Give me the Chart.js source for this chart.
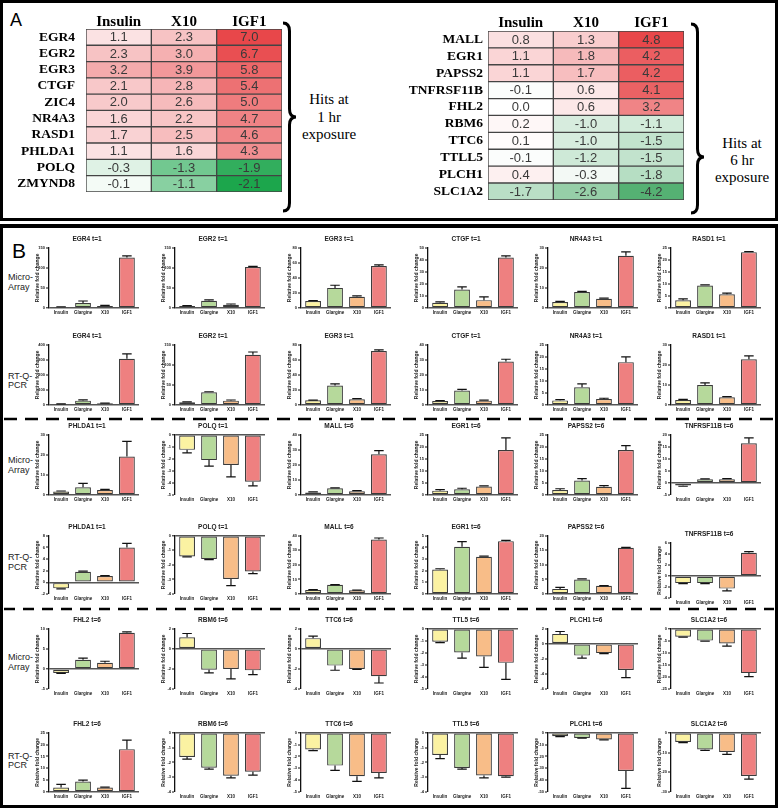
<!DOCTYPE html>
<html><head><meta charset="utf-8">
<script src="https://cdn.jsdelivr.net/npm/chart.js@4.4.1/dist/chart.umd.min.js"></script>
<style>
html,body{margin:0;padding:0;background:#fff;}
#page{position:relative;width:778px;height:808px;overflow:hidden;background:#fff;}
.box{position:absolute;box-sizing:border-box;border:3px solid #000;}
.t{position:absolute;white-space:nowrap;line-height:1;color:#000;}
canvas{position:absolute;}
svg{position:absolute;left:0;top:0;}
</style></head><body><div id="page">
<div class="box" style="left:0;top:0;width:778px;height:221px;"></div>
<div class="box" style="left:0;top:224px;width:778px;height:584px;border-top-width:4px;"></div>
<div class="t" style="left:10px;top:9.5px;font:18px 'Liberation Sans',Arial,sans-serif;">A</div>
<div class="t" style="left:12px;top:239px;font:21px 'Liberation Sans',Arial,sans-serif;">B</div>
<div class="t" style="left:279px;top:91px;width:100px;text-align:center;font:15px 'Liberation Serif','Times New Roman',serif;line-height:17.5px;">Hits at<br>1 hr<br>exposure</div>
<div class="t" style="left:692px;top:134.5px;width:100px;text-align:center;font:15px 'Liberation Serif','Times New Roman',serif;line-height:17px;">Hits at<br>6 hr<br>exposure</div>
<svg width="778" height="808">
<path d="M283,23 Q289.5,23 289.5,31 L289.5,109 Q289.5,117 296,117 Q289.5,117 289.5,125 L289.5,203 Q289.5,211 283,211" fill="none" stroke="#000" stroke-width="3"/>
<path d="M691,24 Q697.5,24 697.5,32 L697.5,149 Q697.5,157 704,157 Q697.5,157 697.5,165 L697.5,205 Q697.5,213 691,213" fill="none" stroke="#000" stroke-width="3"/>
<line x1="4" y1="419" x2="774" y2="419" stroke="#000" stroke-width="2.5" stroke-dasharray="13 8"/>
<line x1="4" y1="609" x2="774" y2="609" stroke="#000" stroke-width="2.5" stroke-dasharray="11 8"/>
</svg>
</div>
<script>
// ---------------- Panel A data (log2 fold change) ----------------
const hmCols = ['Insulin', 'X10', 'IGF1'];
const genes1h = ['EGR4','EGR2','EGR3','CTGF','ZIC4','NR4A3','RASD1','PHLDA1','POLQ','ZMYND8'];
const ins1h  = [1.1, 2.3, 3.2, 2.1, 2.0, 1.6, 1.7, 1.1, -0.3, -0.1];
const x10_1h = [2.3, 3.0, 3.9, 2.8, 2.6, 2.2, 2.5, 1.6, -1.3, -1.1];
const igf1_1h= [7.0, 6.7, 5.8, 5.4, 5.0, 4.7, 4.6, 4.3, -1.9, -2.1];
const genes6h = ['MALL','EGR1','PAPSS2','TNFRSF11B','FHL2','RBM6','TTC6','TTLL5','PLCH1','SLC1A2'];
const ins6h  = [0.8, 1.1, 1.1, -0.1, 0.0, 0.2, 0.1, -0.1, 0.4, -1.7];
const x10_6h = [1.3, 1.8, 1.7, 0.6, 0.6, -1.0, -1.0, -1.2, -0.3, -2.6];
const igf1_6h= [4.8, 4.2, 4.2, 4.1, 3.2, -1.1, -1.5, -1.5, -1.8, -4.2];

// ---------------- Panel B data (relative fold change, mean and error) ----------------
const treatments = ['Insulin', 'Glargine', 'X10', 'IGF1'];
const rowLabels = ['Micro-|Array', 'RT-Q-|PCR', 'Micro-|Array', 'RT-Q-|PCR', 'Micro-|Array', 'RT-Q-|PCR'];

const maEGR4 = [2.3, 12.5, 4.9, 126];     const maEGR4Err = [0.8, 5, 1.5, 4];
const maEGR2 = [4.9, 18, 8, 102];         const maEGR2Err = [1, 2, 2, 1.5];
const maEGR3 = [9.2, 26.7, 15, 55.7];     const maEGR3Err = [0.8, 3.5, 1.2, 1.5];
const maCTGF = [4.3, 15.3, 6.5, 42];      const maCTGFErr = [0.8, 2.2, 2.7, 1.3];
const maNR4A3 = [3.0, 8.0, 4.6, 26];      const maNR4A3Err = [0.3, 0.3, 0.3, 2];
const maRASD1 = [3.2, 9.3, 5.7, 23.2];    const maRASD1Err = [0.6, 0.3, 0.5, 0.2];

const pcrEGR4 = [7, 29, 11, 307];         const pcrEGR4Err = [1, 5, 1, 33];
const pcrEGR2 = [6.7, 31.7, 10.8, 125];   const pcrEGR2Err = [1.3, 1.3, 1.7, 7];
const pcrEGR3 = [6.2, 25.8, 7.6, 71.6];   const pcrEGR3Err = [0.4, 2.2, 0.8, 1.7];
const pcrCTGF = [2.7, 9.6, 2.9, 28.9];    const pcrCTGFErr = [0.3, 0.8, 0.4, 1.5];
const pcrNR4A3 = [1.9, 7.4, 2.5, 17.8];   const pcrNR4A3Err = [0.3, 1.4, 0.3, 2.2];
const pcrRASD1 = [2.5, 10, 3.8, 22.8];    const pcrRASD1Err = [0.3, 1.0, 0.4, 1.7];

const maPHLDA1 = [1.7, 3.8, 2.5, 19.2];   const maPHLDA1Err = [0.3, 2, 0.3, 7.5];
const maPOLQ = [-1.25, -2.1, -2.5, -3.9]; const maPOLQErr = [0.25, 0.5, 1.0, 0.35];
const maMALL = [1.74, 4.5, 2.46, 27];     const maMALLErr = [0.3, 0.3, 0.4, 2.5];
const maEGR1 = [1.8, 2.4, 3.5, 18.7];     const maEGR1Err = [0.4, 0.4, 0.3, 5];
const maPAPSS2 = [2.1, 6, 3.4, 18.7];     const maPAPSS2Err = [0.5, 0.8, 0.5, 1.8];
const maTNFRSF11B = [-1.07, 1.5, 1.5, 16.5]; const maTNFRSF11BErr = [0.3, 0.2, 0.3, 2.2];

const pcrPHLDA1 = [-1.03, 1.82, 1.08, 6.0];  const pcrPHLDA1Err = [0.08, 0.1, 0.08, 0.7];
const pcrPOLQ = [-1.42, -1.6, -2.97, -2.45]; const pcrPOLQErr = [0.03, 0.04, 0.46, 0.15];
const pcrMALL = [2.8, 6.3, 2.5, 37.5];       const pcrMALLErr = [0.2, 0.2, 0.2, 1];
const pcrEGR1 = [2.1, 4.05, 3.2, 4.54];      const pcrEGR1Err = [0.07, 0.45, 0.05, 0.06];
const pcrPAPSS2 = [1.75, 5.0, 2.8, 15.9];    const pcrPAPSS2Err = [0.55, 0.2, 0.1, 0.1];
const pcrTNFRSF11B = [-1.3, -1.3, -2.3, 4.2]; const pcrTNFRSF11BErr = [0.1, 0.1, 0.4, 0.2];

const maFHL2 = [-1, 2.3, 1.52, 9.0];         const maFHL2Err = [0.1, 0.4, 0.4, 0.25];
const maRBM6 = [1.15, -2.07, -2.0, -2.14];   const maRBM6Err = [0.38, 0.33, 1.0, 0.43];
const maTTC6 = [1.07, -1.67, -2.0, -2.73];   const maTTC6Err = [0.2, 0.46, 0.05, 0.67];
const maTTLL5 = [-1.07, -1.97, -2.3, -2.83]; const maTTLL5Err = [0.07, 0.47, 0.9, 1.37];
const maPLCH1 = [1.32, -1.56, -1.23, -3.48]; const maPLCH1Err = [0.32, 0.34, 0.07, 1.0];
const maSLC1A2 = [-3.25, -4.9, -6.06, -18.4]; const maSLC1A2Err = [0.2, 0.2, 1.1, 1.5];

const pcrFHL2 = [1.9, 4.4, 1.9, 18.1];        const pcrFHL2Err = [1.3, 0.6, 0.2, 3.8];
const pcrRBM6 = [-1.64, -2.36, -2.9, -2.63];  const pcrRBM6Err = [0.14, 0.09, 0.14, 0.23];
const pcrTTC6 = [-1.41, -2.77, -3.67, -3.4];  const pcrTTC6Err = [0.09, 0.4, 0.43, 0.4];
const pcrTTLL5 = [-1.5, -2.37, -2.89, -2.93]; const pcrTTLL5Err = [0.25, 0.08, 0.15, 0.07];
const pcrPLCH1 = [-2.9, -4.3, -5.7, -32.2];   const pcrPLCH1Err = [0.3, 0.2, 0.3, 14.8];
const pcrSLC1A2 = [-4.7, -8.4, -9.7, -21.9];  const pcrSLC1A2Err = [0.3, 0.5, 1.2, 1.6];

// chart list: title, values, errors, y axis [min, max, step]
const panels = [
  ['EGR4 t=1', maEGR4, maEGR4Err, [0,150,50]], ['EGR2 t=1', maEGR2, maEGR2Err, [0,150,50]],
  ['EGR3 t=1', maEGR3, maEGR3Err, [0,80,20]], ['CTGF t=1', maCTGF, maCTGFErr, [0,50,10]],
  ['NR4A3 t=1', maNR4A3, maNR4A3Err, [0,30,10]], ['RASD1 t=1', maRASD1, maRASD1Err, [0,25,5]],
  ['EGR4 t=1', pcrEGR4, pcrEGR4Err, [0,400,100]], ['EGR2 t=1', pcrEGR2, pcrEGR2Err, [0,150,50]],
  ['EGR3 t=1', pcrEGR3, pcrEGR3Err, [0,80,20]], ['CTGF t=1', pcrCTGF, pcrCTGFErr, [0,40,10]],
  ['NR4A3 t=1', pcrNR4A3, pcrNR4A3Err, [0,25,5]], ['RASD1 t=1', pcrRASD1, pcrRASD1Err, [0,30,10]],
  ['PHLDA1 t=1', maPHLDA1, maPHLDA1Err, [0,30,10]], ['POLQ t=1', maPOLQ, maPOLQErr, [-5,0,1]],
  ['MALL t=6', maMALL, maMALLErr, [0,40,10]], ['EGR1 t=6', maEGR1, maEGR1Err, [0,25,5]],
  ['PAPSS2 t=6', maPAPSS2, maPAPSS2Err, [0,25,5]], ['TNFRSF11B t=6', maTNFRSF11B, maTNFRSF11BErr, [-5,20,5]],
  ['PHLDA1 t=1', pcrPHLDA1, pcrPHLDA1Err, [-2,8,2]], ['POLQ t=1', pcrPOLQ, pcrPOLQErr, [-4,0,1]],
  ['MALL t=6', pcrMALL, pcrMALLErr, [0,40,10]], ['EGR1 t=6', pcrEGR1, pcrEGR1Err, [0,5,1]],
  ['PAPSS2 t=6', pcrPAPSS2, pcrPAPSS2Err, [0,20,5]], ['TNFRSF11B t=6', pcrTNFRSF11B, pcrTNFRSF11BErr, [-4,6,2]],
  ['FHL2 t=6', maFHL2, maFHL2Err, [-5,10,5]], ['RBM6 t=6', maRBM6, maRBM6Err, [-4,2,2]],
  ['TTC6 t=6', maTTC6, maTTC6Err, [-4,2,2]], ['TTL5 t=6', maTTLL5, maTTLL5Err, [-5,0,1]],
  ['PLCH1 t=6', maPLCH1, maPLCH1Err, [-6,2,2]], ['SLC1A2 t=6', maSLC1A2, maSLC1A2Err, [-25,0,5]],
  ['FHL2 t=6', pcrFHL2, pcrFHL2Err, [0,25,5]], ['RBM6 t=6', pcrRBM6, pcrRBM6Err, [-4,0,1]],
  ['TTC6 t=6', pcrTTC6, pcrTTC6Err, [-5,0,1]], ['TTL5 t=6', pcrTTLL5, pcrTTLL5Err, [-4,0,1]],
  ['PLCH1 t=6', pcrPLCH1, pcrPLCH1Err, [-50,0,10]], ['SLC1A2 t=6', pcrSLC1A2, pcrSLC1A2Err, [-30,0,10]]
];

// ---------------- layout ----------------
const page = document.getElementById('page');
const SANS = "'Liberation Sans', Arial, Helvetica, sans-serif";
const SERIF = "'Liberation Serif', 'Times New Roman', serif";
Chart.defaults.animation = false;
Chart.defaults.responsive = false;
Chart.defaults.devicePixelRatio = 1;
Chart.defaults.plugins.legend.display = false;
Chart.defaults.plugins.tooltip.enabled = false;

function addCanvas(left, top, w, h) {
  const c = document.createElement('canvas');
  c.width = Math.round(w); c.height = Math.round(h);
  c.style.left = left + 'px'; c.style.top = top + 'px';
  c.style.width = Math.round(w) + 'px'; c.style.height = Math.round(h) + 'px';
  page.appendChild(c);
  return c;
}

function mix(a, b, t) {
  const c = a.map((v, i) => Math.round(v + (b[i] - v) * t));
  return 'rgb(' + c.join(',') + ')';
}
function heatColor(v, posMax, negMin, posEnd, negEnd) {
  if (v >= 0) return mix([255,255,255], posEnd, Math.min(v / posMax, 1));
  return mix([255,255,255], negEnd, Math.min(v / negMin, 1));
}

const cellText = {
  id: 'cellText',
  afterDatasetsDraw(chart) {
    const ctx = chart.ctx;
    ctx.save();
    ctx.font = "13px " + SANS;
    ctx.fillStyle = '#3a3a3a';
    ctx.textAlign = 'center';
    ctx.textBaseline = 'middle';
    chart.data.datasets.forEach((ds, di) => {
      chart.getDatasetMeta(di).data.forEach((el, i) => {
        ctx.fillText(ds.vals[i].toFixed(1), (el.x + el.base) / 2, el.y + 0.5);
      });
    });
    ctx.restore();
  }
};

function heatmap(left, top, rowH, genes, cols, posMax, negMin, posEnd, negEnd, labelPad, headPad) {
  const axisW = 92, headH = 23, colW = 65.3;
  const c = addCanvas(left - axisW, top - headH, axisW + colW * 3 + 1, headH + rowH * genes.length + 1);
  new Chart(c, {
    type: 'bar',
    data: {
      labels: genes,
      datasets: cols.map((vals, ci) => ({
        data: genes.map(() => [ci, ci + 1]),
        vals: vals,
        backgroundColor: vals.map(v => heatColor(v, posMax, negMin, posEnd, negEnd)),
        borderColor: '#444', borderWidth: 1, borderSkipped: false,
        barPercentage: 1, categoryPercentage: 1, grouped: false
      }))
    },
    options: {
      indexAxis: 'y',
      layout: { padding: { right: 1, bottom: 1 }, autoPadding: false },
      scales: {
        y: {
          grid: { display: false, drawTicks: false }, border: { display: false },
          ticks: { autoSkip: false, font: { family: SERIF, weight: 'bold', size: 13.5 }, color: '#000', padding: labelPad },
          afterFit: s => { s.width = axisW; }
        },
        x: {
          type: 'linear', position: 'top', min: 0, max: 3,
          afterBuildTicks: s => { s.ticks = [0.5, 1.5, 2.5].map(v => ({ value: v })); },
          ticks: { callback: v => hmCols[Math.floor(v)], font: { family: SERIF, weight: 'bold', size: 15, lineHeight: 1 }, color: '#000', padding: headPad, autoSkip: false, maxRotation: 0 },
          grid: { display: false, drawTicks: false }, border: { display: false },
          afterFit: s => { s.height = headH; }
        }
      }
    },
    plugins: [cellText]
  });
}

heatmap(86, 29, 18.1, genes1h, [ins1h, x10_1h, igf1_1h], 7.0, -2.1, [232,71,74], [28,166,76], 11, -1);
heatmap(488, 30.5, 18.1, genes6h, [ins6h, x10_6h, igf1_6h], 4.8, -4.2, [232,71,74], [85,177,115], 5, 0);

// ---------------- Panel B ----------------
const barFill = ['#fbf2a2', '#b6d99b', '#f8bd88', '#ee8080'];
const colX = [49, 175, 301, 428, 548, 671];
const rowY = [[248,308],[345,405],[435,495],[536,594],[629,689],[733,792]];
const rowLabelY = [278, 376.5, 461, 558, 658, 756.5];

const errorBars = {
  id: 'errorBars',
  afterDatasetsDraw(chart) {
    const ds = chart.data.datasets[0];
    const meta = chart.getDatasetMeta(0);
    const ys = chart.scales.y;
    const ctx = chart.ctx;
    ctx.save();
    ctx.strokeStyle = '#111';
    ctx.lineWidth = 1.2;
    meta.data.forEach((bar, i) => {
      const v = ds.data[i].y, e = ds.errs[i];
      const end = v >= 0 ? v + e : v - e;
      const y0 = ys.getPixelForValue(v), y1 = ys.getPixelForValue(end);
      const half = bar.width * 0.3;
      ctx.beginPath();
      ctx.moveTo(bar.x, y0); ctx.lineTo(bar.x, y1);
      ctx.moveTo(bar.x - half, y1); ctx.lineTo(bar.x + half, y1);
      ctx.stroke();
    });
    ctx.restore();
  }
};

const YW = 14, XH = 9, TH = 12.8, PW = 90;
panels.forEach((p, idx) => {
  const r = Math.floor(idx / 6), col = idx % 6;
  let [pt, pb] = rowY[r];
  if (r === 3 && col === 5) { pt = 543; pb = 598; }
  const left = colX[col] - YW;
  const top = Math.round(pt - TH);
  const h = (pb - pt) + TH + XH;
  const c = addCanvas(left, top, YW + PW + YW, h);
  const [ymin, ymax, ystep] = p[3];
  new Chart(c, {
    type: 'bar',
    data: {
      datasets: [{
        data: p[1].map((y, i) => ({ x: i, y: y })),
        errs: p[2],
        backgroundColor: barFill,
        borderColor: '#3a3a3a', borderWidth: 1.2, borderSkipped: false,
        barPercentage: 0.8, categoryPercentage: 0.9
      }]
    },
    options: {
      layout: { padding: { left: 0, right: YW, top: 0, bottom: 0 }, autoPadding: false },
      plugins: {
        title: { display: true, text: p[0], color: '#222', font: { family: SANS, size: 6.5, weight: 'bold' }, padding: { top: 0, bottom: 5 } }
      },
      scales: {
        x: {
          type: 'linear', min: -0.55, max: 3.55, offset: false,
          afterBuildTicks: s => { s.ticks = [0, 1, 2, 3].map(v => ({ value: v })); },
          ticks: { callback: v => treatments[v], font: { family: SANS, size: 4.5, weight: 'bold' }, color: '#222', padding: 2, autoSkip: false, maxRotation: 0 },
          grid: { display: false, drawTicks: false, offset: false }, border: { display: false },
          afterFit: s => { s.height = XH; }
        },
        y: {
          min: ymin, max: ymax,
          ticks: { stepSize: ystep, font: { family: SANS, size: 4, weight: 'bold' }, color: '#222', padding: 1 },
          grid: {
            drawTicks: true, tickLength: 3, tickColor: '#111', tickWidth: 1,
            color: ctx => (ctx.tick && ctx.tick.value === 0) ? '#555' : 'rgba(0,0,0,0)',
            lineWidth: ctx => (ctx.tick && ctx.tick.value === 0) ? 1.6 : 0
          },
          border: { display: true, color: '#111', width: 1.3 },
          title: { display: true, text: 'Relative fold change', color: '#222', font: { family: SANS, size: 5, weight: 'bold' }, padding: 0 },
          afterFit: s => { s.width = YW; }
        }
      }
    },
    plugins: [errorBars]
  });
});

rowLabels.forEach((lab, i) => {
  const d = document.createElement('div');
  d.className = 't';
  d.style.left = '8px';
  d.style.top = (rowLabelY[i] - 4.75) + 'px';
  d.style.font = "9px " + SANS;
  d.style.lineHeight = '9.5px';
  d.style.color = '#222';
  d.innerHTML = lab.split('|').join('<br>');
  page.appendChild(d);
});
</script>
</body></html>
